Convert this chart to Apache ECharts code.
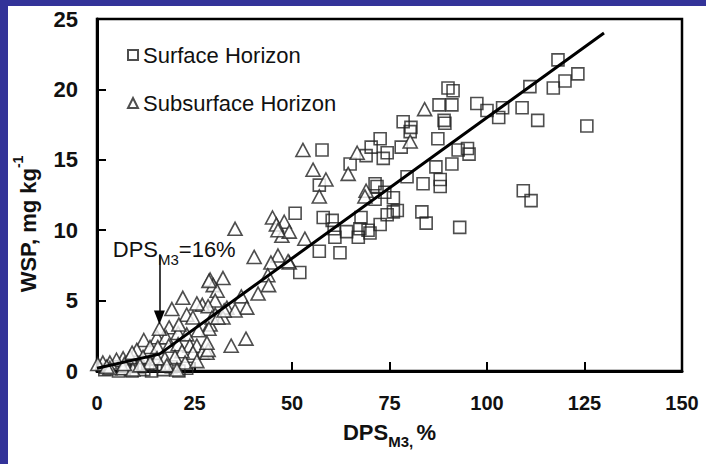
<!DOCTYPE html>
<html>
<head>
<meta charset="utf-8">
<script src="https://cdn.jsdelivr.net/npm/echarts@6/dist/echarts.min.js"></script>
<style>
  html, body { margin: 0; padding: 0; background: #fff; }
  #chart { width: 706px; height: 464px; }
</style>
</head>
<body>
<div id="chart"></div>
<script>
// axis ticks
var xTicks = [0, 25, 50, 75, 100, 125, 150]
var yTicks = [0, 5, 10, 15, 20, 25]

// Surface Horizon (squares)
var surface = [
  [118.2, 22.1], [111, 20.2], [117, 20.1], [120, 20.6], [123.3, 21.1], [109, 18.7], [113, 17.8],
  [125.6, 17.4], [109.3, 12.8], [111.3, 12.1],
  [90, 20.1], [91.3, 19.9], [87.7, 18.9], [91, 18.9], [97.4, 19.0], [100, 18.5], [104, 18.7],
  [103, 18.0], [89, 17.8], [89.2, 17.6], [87.4, 16.5], [92.6, 15.7], [95, 15.8], [95.4, 15.4],
  [86.9, 14.5], [91, 14.7], [83.6, 13.3], [88, 13.6], [88, 13.1], [83.3, 11.3], [84.4, 10.5], [93, 10.2],
  [78.5, 17.7], [80.5, 17.3], [80.3, 17.0], [72.6, 16.5], [70.3, 15.9], [78, 15.9], [74.4, 15.5],
  [69, 15.3], [73.4, 15.1], [57.7, 15.7], [64.9, 14.7], [79.5, 13.8], [57, 13.2], [71.3, 13.3],
  [71.8, 13.1], [71.3, 12.2], [76, 12.3], [73.8, 12.7], [50.8, 11.2], [58, 10.9], [60.3, 10.7],
  [67.7, 10.9], [74.4, 11.1], [76, 11.3], [77, 11.4], [72.6, 10.4], [60.8, 10.1], [64, 9.9],
  [67.4, 10.1], [69.5, 10.0], [70, 9.8], [61, 9.5], [67, 9.5], [57, 8.5], [62.3, 8.4], [52, 7.0],
  [2, 0.1], [4, 0.3], [5.5, 0], [7, 0.2], [9, 0], [10.5, 0.3], [12, 0.1], [14, 0], [15, 0.4],
  [17, 0.1], [19, 0.3], [21, 0], [23, 0.2], [13, 0.5]
]

// Subsurface Horizon (triangles)
var subsurface = [
  [84, 18.6], [80.3, 16.3], [52.8, 15.7], [55.4, 14.3], [58.7, 13.6], [57, 12.4], [66.7, 15.5],
  [64.4, 14.0], [69, 12.8], [68.7, 12.4], [48, 10.6], [47.4, 9.6], [49.3, 9.9], [53.3, 9.4], [49.3, 7.7],
  [45, 10.9], [46, 10.4], [46.4, 10.0], [35.4, 10.1], [40.3, 8.1], [46.4, 8.2], [44.6, 7.7], [49, 7.8],
  [43.8, 6.8], [44, 6.1], [29, 6.5], [32.3, 6.6], [29.8, 6.1], [30.8, 5.7], [41.3, 5.5], [37, 5.3],
  [30.3, 5.0], [27, 4.7], [28.5, 4.6], [33.3, 4.5], [38.4, 4.5], [35.4, 4.3], [30.3, 4.0], [32.3, 3.8],
  [29, 3.3], [22, 5.2], [19.2, 4.4], [25.6, 4.8], [28.7, 6.4], [23, 4.0], [24.6, 3.8], [29.5, 3.8],
  [31, 3.8], [28.7, 3.0], [32.6, 4.3], [34.4, 1.8], [38.2, 2.3],
  [18.5, 3.1], [15.4, 2.4], [12, 2.2], [17.7, 2.4], [20.8, 2.7], [23, 2.6], [10.2, 1.5], [13.6, 1.7],
  [15.6, 1.7], [18.4, 1.8], [20.8, 1.9], [23.8, 1.8], [25.6, 1.8], [27, 1.3], [28.2, 1.3], [24.6, 1.3],
  [21.8, 1.4], [20, 1.0], [17.4, 0.9], [15.4, 0.9], [6.7, 0.9], [5, 0.8], [3.3, 0.6], [1.5, 0.6],
  [0.2, 0.5], [8.5, 1.0], [11.8, 1.0], [13.6, 0.6], [17.9, 0.4], [22.6, 0.6], [25.6, 0.7], [3.3, 0.2],
  [6.7, 0.2], [9.2, 0.1], [20.5, 0.1], [28.5, 1.5], [28.2, 2.0], [26, 2.9], [21, 3.3], [16, 3.0],
  [9, 1.3], [7, 0.5], [11, 0.4], [2.5, 0.3]
]

// segmented fit line
var fitLine = [[0, 0.2], [16, 1.2], [130, 24]]
// arrow for DPS_M3 = 16 %
var arrowX = 16
var arrowFrom = 8.3
var arrowTo = 3.8

var font = 'Liberation Sans, Arial, sans-serif'
var chart = echarts.init(document.getElementById('chart'), null, { renderer: 'svg' })

var option = {
  backgroundColor: '#fff',
  animation: false,
  graphic: [
    { type: 'rect', left: 0, top: 0, shape: { width: 706, height: 6 }, style: { fill: '#333399' } },
    { type: 'rect', left: 0, top: 0, shape: { width: 8, height: 464 }, style: { fill: '#333399' } }
  ],
  grid: {
    left: 97,
    top: 19,
    width: 585,
    height: 352,
    show: true,
    borderColor: '#000',
    borderWidth: 2.5
  },
  legend: {
    orient: 'vertical',
    left: 122,
    top: 39,
    itemGap: 26,
    itemWidth: 10,
    itemHeight: 10,
    textStyle: { fontFamily: font, fontSize: 22, color: '#111' },
    data: ['Surface Horizon', 'Subsurface Horizon']
  },
  xAxis: {
    type: 'value',
    min: 0,
    max: 150,
    interval: 25,
    name: '{b|DPS}{s|M3,} {b|%}',
    nameLocation: 'middle',
    nameGap: 50,
    nameTextStyle: {
      rich: {
        b: { fontFamily: font, fontWeight: 'bold', fontSize: 22, color: '#111', lineHeight: 28, verticalAlign: 'top' },
        s: { fontFamily: font, fontWeight: 'bold', fontSize: 15, color: '#111', lineHeight: 28, verticalAlign: 'bottom' }
      }
    },
    axisLine: { lineStyle: { color: '#000', width: 3 } },
    axisTick: { inside: true, length: 9, lineStyle: { color: '#000', width: 2 } },
    axisLabel: {
      margin: 22,
      fontFamily: font, fontWeight: 'bold', fontSize: 20, color: '#111',
      formatter: function (v) { return xTicks.indexOf(v) >= 0 ? String(v) : '' }
    },
    splitLine: { show: false }
  },
  yAxis: {
    type: 'value',
    min: 0,
    max: 25,
    interval: 5,
    name: '{b|WSP, mg kg}{s|-1}',
    nameLocation: 'middle',
    nameGap: 58,
    nameRotate: 90,
    nameTextStyle: {
      padding: [0, 58, 0, 0],
      rich: {
        b: { fontFamily: font, fontWeight: 'bold', fontSize: 22, color: '#111', lineHeight: 28, verticalAlign: 'bottom' },
        s: { fontFamily: font, fontWeight: 'bold', fontSize: 14, color: '#111', lineHeight: 28, verticalAlign: 'top' }
      }
    },
    axisLine: { lineStyle: { color: '#000', width: 3 } },
    axisTick: { inside: true, length: 9, lineStyle: { color: '#000', width: 2 } },
    axisLabel: {
      margin: 19,
      fontFamily: font, fontWeight: 'bold', fontSize: 22, color: '#111',
      formatter: function (v) { return yTicks.indexOf(v) >= 0 ? String(v) : '' }
    },
    splitLine: { show: false }
  },
  series: [
    {
      name: 'Surface Horizon',
      type: 'scatter',
      symbol: 'rect',
      symbolSize: 12,
      itemStyle: { color: 'rgba(255,255,255,0)', borderColor: '#222', borderWidth: 1.6 },
      data: surface,
      z: 3
    },
    {
      name: 'Subsurface Horizon',
      type: 'scatter',
      symbol: 'triangle',
      symbolSize: [14, 13],
      itemStyle: { color: '#fff', borderColor: '#222', borderWidth: 1.6 },
      data: subsurface,
      z: 4
    },
    {
      name: 'fit',
      type: 'line',
      data: fitLine,
      symbol: 'none',
      lineStyle: { color: '#000', width: 3 },
      z: 5,
      markLine: {
        silent: true,
        symbol: ['none', 'triangle'],
        symbolSize: [11, 14],
        lineStyle: { color: '#000', width: 1.5, type: 'solid' },
        label: { show: false },
        data: [[{ coord: [arrowX, arrowFrom] }, { coord: [arrowX, arrowTo] }]]
      },
      markPoint: {
        silent: true,
        symbol: 'rect',
        symbolSize: 0,
        label: {
          show: true,
          position: 'inside',
          formatter: '{b|DPS}{s|M3}{b|=16%}',
          rich: {
            b: { fontFamily: font, fontSize: 22, color: '#111', lineHeight: 28, verticalAlign: 'top' },
            s: { fontFamily: font, fontSize: 15, color: '#111', lineHeight: 28, verticalAlign: 'bottom' }
          }
        },
        data: [{ coord: [19.8, 8.4] }]
      }
    }
  ]
}
chart.setOption(option)
</script>
</body>
</html>
